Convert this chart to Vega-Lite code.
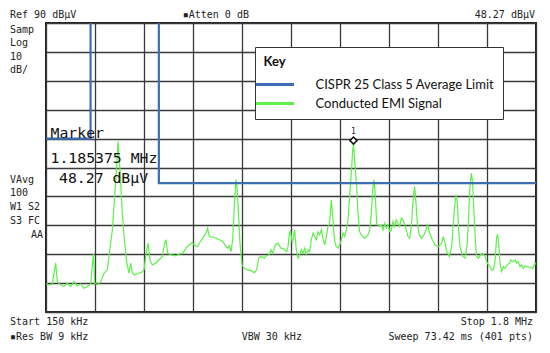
{
  "$schema": "https://vega.github.io/schema/vega-lite/v6.json",
  "width": 490,
  "height": 289,
  "autosize": "none",
  "padding": {"left": 46, "top": 23, "right": 14, "bottom": 41},
  "background": "white",
  "config": {
    "view": {"stroke": "#222", "strokeWidth": 2},
    "axis": {"grid": true, "gridColor": "#3a3a3a", "gridWidth": 1.3, "gridOpacity": 1, "labels": false, "ticks": false, "domain": false, "title": null}
  },
  "datasets": {
    "trace": [
      {"f":0.150,"dB":-0.3},{"f":0.1523,"dB":-0.3},{"f":0.1601,"dB":-0.6},{"f":0.1713,"dB":-0.3},{"f":0.1826,"dB":6.9},{"f":0.1882,"dB":0.5},{"f":0.1994,"dB":-0.6},{"f":0.2106,"dB":-1.2},{"f":0.2218,"dB":0.0},{"f":0.2331,"dB":-1.2},{"f":0.2443,"dB":0.5},{"f":0.2555,"dB":-1.0},{"f":0.2667,"dB":-0.3},{"f":0.2780,"dB":-1.8},{"f":0.2892,"dB":-1.2},{"f":0.3004,"dB":-0.3},{"f":0.3094,"dB":10.1},{"f":0.3139,"dB":0.0},{"f":0.3228,"dB":-0.6},{"f":0.3341,"dB":0.5},{"f":0.3453,"dB":3.4},{"f":0.3565,"dB":4.6},{"f":0.3621,"dB":9.2},{"f":0.3734,"dB":18.4},{"f":0.3812,"dB":30.0},{"f":0.3880,"dB":40.4},{"f":0.3924,"dB":49.0},{"f":0.3992,"dB":39.2},{"f":0.4070,"dB":24.2},{"f":0.4149,"dB":13.8},{"f":0.4216,"dB":7.4},{"f":0.4295,"dB":3.4},{"f":0.4351,"dB":6.9},{"f":0.4407,"dB":3.4},{"f":0.4486,"dB":2.8},{"f":0.4598,"dB":3.4},{"f":0.4710,"dB":3.6},{"f":0.4800,"dB":4.6},{"f":0.4856,"dB":9.2},{"f":0.4935,"dB":13.8},{"f":0.5002,"dB":8.0},{"f":0.5080,"dB":6.3},{"f":0.5193,"dB":6.9},{"f":0.5305,"dB":8.0},{"f":0.5417,"dB":9.2},{"f":0.5496,"dB":13.8},{"f":0.5540,"dB":15.0},{"f":0.5597,"dB":10.3},
      {"f":0.5709,"dB":9.8},{"f":0.5877,"dB":9.4},{"f":0.5990,"dB":10.1},{"f":0.6102,"dB":10.3},{"f":0.6214,"dB":12.1},{"f":0.6326,"dB":13.2},{"f":0.6416,"dB":14.0},{"f":0.6495,"dB":13.2},{"f":0.6607,"dB":12.6},{"f":0.6663,"dB":13.8},{"f":0.6775,"dB":15.5},{"f":0.6888,"dB":17.3},{"f":0.6944,"dB":19.0},{"f":0.7000,"dB":16.1},{"f":0.7112,"dB":15.9},{"f":0.7225,"dB":15.5},{"f":0.7337,"dB":15.0},{"f":0.7449,"dB":14.4},{"f":0.7562,"dB":12.6},{"f":0.7617,"dB":12.1},{"f":0.7673,"dB":12.9},{"f":0.7730,"dB":10.9},{"f":0.7786,"dB":15.0},{"f":0.7842,"dB":26.5},{"f":0.7898,"dB":35.8},{"f":0.7932,"dB":33.4},{"f":0.7988,"dB":23.0},{"f":0.8033,"dB":13.8},{"f":0.8100,"dB":6.3},{"f":0.8178,"dB":5.1},{"f":0.8291,"dB":4.6},{"f":0.8403,"dB":4.3},{"f":0.8515,"dB":3.6},{"f":0.8594,"dB":4.6},{"f":0.8661,"dB":8.6},{"f":0.8740,"dB":9.2},{"f":0.8852,"dB":8.6},{"f":0.8908,"dB":9.4},{"f":0.9020,"dB":9.8},{"f":0.9076,"dB":11.5},{"f":0.9133,"dB":10.3},{"f":0.9222,"dB":13.2},{"f":0.9301,"dB":13.8},{"f":0.9413,"dB":12.1},{"f":0.9525,"dB":11.7},{"f":0.9604,"dB":10.9},{"f":0.9649,"dB":12.6},{"f":0.9700,"dB":17.5},{"f":0.9733,"dB":18.0},{"f":0.9795,"dB":13.8},{"f":0.9873,"dB":18.4},{"f":0.9929,"dB":11.5},{"f":0.9986,"dB":8.6},
      {"f":1.0042,"dB":9.8},{"f":1.0098,"dB":11.5},{"f":1.0154,"dB":10.3},{"f":1.0210,"dB":12.1},{"f":1.0266,"dB":9.8},{"f":1.0322,"dB":11.5},{"f":1.0378,"dB":10.9},{"f":1.0435,"dB":15.0},{"f":1.0491,"dB":17.3},{"f":1.0547,"dB":16.1},{"f":1.0603,"dB":15.0},{"f":1.0659,"dB":17.8},{"f":1.0715,"dB":16.7},{"f":1.0771,"dB":18.4},{"f":1.0827,"dB":15.5},{"f":1.0884,"dB":13.2},{"f":1.0940,"dB":16.1},{"f":1.0996,"dB":19.6},{"f":1.1052,"dB":20.7},{"f":1.1108,"dB":28.8},{"f":1.1164,"dB":21.9},{"f":1.1220,"dB":14.4},{"f":1.1276,"dB":12.6},{"f":1.1333,"dB":12.1},{"f":1.1389,"dB":13.2},{"f":1.1445,"dB":15.0},{"f":1.1501,"dB":17.3},{"f":1.1557,"dB":16.1},{"f":1.1613,"dB":18.4},{"f":1.1669,"dB":21.9},{"f":1.1725,"dB":30.0},{"f":1.1782,"dB":38.1},{"f":1.1820,"dB":45.0},{"f":1.1854,"dB":48.27},{"f":1.1890,"dB":43.0},{"f":1.1960,"dB":33.4},{"f":1.2006,"dB":24.2},{"f":1.2062,"dB":17.8},{"f":1.2118,"dB":16.7},{"f":1.2231,"dB":15.5},{"f":1.2343,"dB":16.7},{"f":1.2399,"dB":18.4},{"f":1.2455,"dB":24.2},{"f":1.2511,"dB":33.4},{"f":1.2545,"dB":35.8},{"f":1.2590,"dB":30.0},{"f":1.2635,"dB":20.7},{"f":1.2702,"dB":19.6},{"f":1.2792,"dB":20.2},{"f":1.2848,"dB":18.4},{"f":1.2904,"dB":20.7},{"f":1.2960,"dB":19.0},{"f":1.3016,"dB":20.2},{"f":1.3073,"dB":17.8},{"f":1.3129,"dB":18.4},{"f":1.3185,"dB":21.3},{"f":1.3241,"dB":19.6},{"f":1.3297,"dB":21.9},{"f":1.3353,"dB":20.7},{"f":1.3409,"dB":19.6},{"f":1.3465,"dB":22.5},{"f":1.3521,"dB":21.9},{"f":1.3577,"dB":20.2},{"f":1.3634,"dB":18.4},{"f":1.3690,"dB":16.1},{"f":1.3746,"dB":15.5},
      {"f":1.3813,"dB":20.7},{"f":1.3869,"dB":30.0},{"f":1.3914,"dB":33.4},{"f":1.3959,"dB":27.7},{"f":1.4004,"dB":20.7},{"f":1.4071,"dB":16.7},{"f":1.4150,"dB":15.5},{"f":1.4228,"dB":16.7},{"f":1.4296,"dB":18.4},{"f":1.4341,"dB":20.2},{"f":1.4408,"dB":17.8},{"f":1.4487,"dB":15.5},{"f":1.4599,"dB":13.2},{"f":1.4711,"dB":12.6},{"f":1.4823,"dB":13.8},{"f":1.4879,"dB":16.1},{"f":1.4936,"dB":13.8},{"f":1.4992,"dB":10.9},{"f":1.5082,"dB":9.2},{"f":1.5160,"dB":12.6},{"f":1.5216,"dB":20.7},{"f":1.5272,"dB":27.7},{"f":1.5306,"dB":30.6},{"f":1.5351,"dB":27.7},{"f":1.5396,"dB":18.4},{"f":1.5441,"dB":12.6},{"f":1.5531,"dB":9.2},{"f":1.5609,"dB":8.6},{"f":1.5688,"dB":13.8},{"f":1.5733,"dB":24.2},{"f":1.5778,"dB":33.4},{"f":1.5822,"dB":38.1},{"f":1.5867,"dB":34.6},{"f":1.5912,"dB":24.2},{"f":1.5957,"dB":15.0},{"f":1.6002,"dB":9.2},{"f":1.6058,"dB":8.6},{"f":1.6137,"dB":9.8},{"f":1.6204,"dB":10.3},{"f":1.6282,"dB":9.2},{"f":1.6361,"dB":6.9},{"f":1.6451,"dB":5.7},{"f":1.6507,"dB":4.6},{"f":1.6563,"dB":4.6},{"f":1.6619,"dB":7.4},{"f":1.6675,"dB":16.1},{"f":1.6709,"dB":16.7},{"f":1.6754,"dB":12.6},{"f":1.6788,"dB":6.9},{"f":1.6844,"dB":4.0},{"f":1.6900,"dB":5.7},{"f":1.6956,"dB":5.1},{"f":1.7034,"dB":6.3},{"f":1.7102,"dB":6.9},{"f":1.7147,"dB":8.0},{"f":1.7214,"dB":7.4},{"f":1.7293,"dB":8.0},{"f":1.7349,"dB":6.9},{"f":1.7405,"dB":7.4},{"f":1.7461,"dB":5.7},{"f":1.7517,"dB":6.3},{"f":1.7573,"dB":5.1},{"f":1.7629,"dB":5.9},{"f":1.7708,"dB":5.7},{"f":1.7798,"dB":5.5},{"f":1.7888,"dB":5.1},{"f":1.7966,"dB":6.9},{"f":1.8000,"dB":6.5}
    ],
    "limit": [
      {"i":1,"f":0.15,"dB":50},{"i":2,"f":0.3,"dB":50},{"i":3,"f":0.3,"dB":100},{"i":4,"f":0.53,"dB":100},{"i":5,"f":0.53,"dB":34.6},{"i":6,"f":1.8,"dB":34.6}
    ],
    "marker": [{"f":1.1854,"dB":48.27,"t":"1"}],
    "readout": [
      {"f":0.1652,"dB":50.3,"t":"Marker"},
      {"f":0.1652,"dB":41.6,"t":"1.185375 MHz"},
      {"f":0.1938,"dB":34.7,"t":"48.27 dBµV"}
    ],
    "annoL": [
      {"f":0.0288,"dB":91.9,"t":"Ref 90 dBµV"},
      {"f":0.6103,"dB":91.9,"t":"▪Atten 0 dB"},
      {"f":0.0288,"dB":86.7,"t":"Samp"},
      {"f":0.0288,"dB":82.0,"t":"Log"},
      {"f":0.0288,"dB":77.35,"t":"10"},
      {"f":0.0288,"dB":72.67,"t":"dB/"},
      {"f":0.0288,"dB":34.7,"t":"VAvg"},
      {"f":0.0288,"dB":30.0,"t":"100"},
      {"f":0.0288,"dB":25.2,"t":"W1 S2"},
      {"f":0.0288,"dB":20.3,"t":"S3 FC"},
      {"f":0.0288,"dB":-14.5,"t":"Start 150 kHz"},
      {"f":0.0288,"dB":-19.7,"t":"▪Res BW 9 kHz"},
      {"f":0.8090,"dB":-19.7,"t":"VBW 30 kHz"}
    ],
    "annoR": [
      {"f":1.7966,"dB":91.9,"t":"48.27 dBµV"},
      {"f":0.1399,"dB":15.5,"t":"AA"},
      {"f":1.7899,"dB":-14.5,"t":"Stop 1.8 MHz"},
      {"f":1.7899,"dB":-19.7,"t":"Sweep 73.42 ms (401 pts)"}
    ]
  },
  "encoding": {
    "x": {"field": "f", "type": "quantitative", "scale": {"domain": [0.15, 1.8], "nice": false, "zero": false},
          "axis": {"values": [0.15, 0.315, 0.48, 0.645, 0.81, 0.975, 1.14, 1.305, 1.47, 1.635, 1.8]}},
    "y": {"field": "dB", "type": "quantitative", "scale": {"domain": [-10, 90], "nice": false, "zero": false},
          "axis": {"values": [-10, 0, 10, 20, 30, 40, 50, 60, 70, 80, 90]}}
  },
  "layer": [
    {
      "data": {"name": "trace"},
      "mark": {"type": "line", "strokeWidth": 1.2, "clip": true},
      "encoding": {
        "color": {
          "datum": "Conducted  EMI Signal",
          "scale": {"domain": ["CISPR 25 Class 5 Average Limit", "Conducted  EMI Signal"], "range": ["#3c6eb4", "#5df048"]},
          "legend": {"title": "Key", "orient": "none", "legendX": 209, "legendY": 24, "direction": "vertical",
                     "strokeColor": "#333", "fillColor": "white", "padding": 8.5,
                     "titleFont": "Lato", "titleFontSize": 13, "titleFontWeight": "bold", "titleColor": "#111", "titlePadding": 4.5,
                     "labelFont": "Lato", "labelFontSize": 13, "labelColor": "#111", "labelOffset": 29, "labelLimit": 300,
                     "symbolType": "M-1.9,0H1.9", "symbolSize": 400, "symbolStrokeWidth": 3, "rowPadding": 0}
        }
      }
    },
    {
      "data": {"name": "limit"},
      "mark": {"type": "line", "strokeWidth": 2.2, "clip": true},
      "encoding": {
        "order": {"field": "i", "type": "quantitative"},
        "color": {"datum": "CISPR 25 Class 5 Average Limit"}
      }
    },
    {
      "data": {"name": "marker"},
      "mark": {"type": "point", "shape": "diamond", "size": 50, "filled": true, "fill": "white", "stroke": "#111", "strokeWidth": 1.5, "opacity": 1, "yOffset": -3}
    },
    {
      "data": {"name": "marker"},
      "mark": {"type": "text", "font": "DejaVu Sans Mono", "fontSize": 8, "color": "#222", "yOffset": -12},
      "encoding": {"text": {"field": "t"}}
    },
    {
      "data": {"name": "readout"},
      "mark": {"type": "text", "font": "DejaVu Sans Mono", "fontSize": 14.8, "color": "#111", "align": "left", "baseline": "alphabetic"},
      "encoding": {"text": {"field": "t"}}
    },
    {
      "data": {"name": "annoL"},
      "mark": {"type": "text", "font": "DejaVu Sans Mono", "fontSize": 10, "color": "#222", "align": "left", "baseline": "alphabetic"},
      "encoding": {"text": {"field": "t"}}
    },
    {
      "data": {"name": "annoR"},
      "mark": {"type": "text", "font": "DejaVu Sans Mono", "fontSize": 10, "color": "#222", "align": "right", "baseline": "alphabetic"},
      "encoding": {"text": {"field": "t"}}
    }
  ]
}
